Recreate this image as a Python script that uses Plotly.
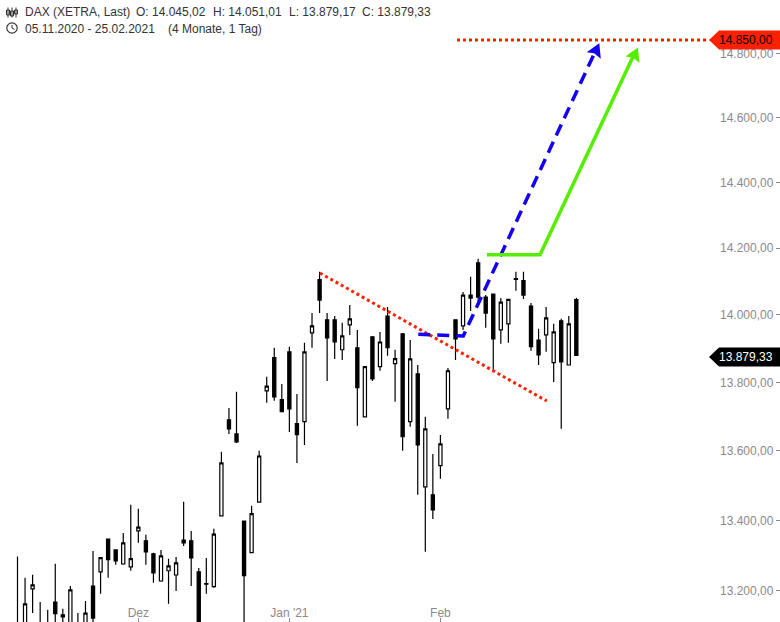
import math
import plotly.graph_objects as go

FONT = "Liberation Sans, Arial, sans-serif"

sessions = list(range(77))
opens = [12400,12550,12800,13050,13206,13100,13060,13169,13133,13100,13100,13090,13214,13254,13347,13316,13276,13268,13370,13342,
         13305,13228,13257,13245,13344,13342,13254,13221,13212,13413,13690,13649,13398,13308,13452,13775,13873,13749,13890,13679,
         13685,13946,14105,13985,13985,13896,13970,13902,13699,13934,13846,13996,13855,13943,13685,13825,13496,13473,13557,13722,
         13985,13967,14059,14156,14053,14062,13955,13973,14108,14102,14026,13925,13940,13858,13982,13851,14045.02]
highs = [12600,12600,13297,13237,13246,13169,13147,13277,13150,13214,13138,13172,13313,13296,13347,13316,13364,13445,13433,13359,
         13308,13316,13291,13296,13453,13370,13265,13293,13376,13597,13725,13772,13398,13442,13600,13816,13902,13795,13905,13766,
         13917,14005,14129,14005,13996,13976,14029,13955,13848,13937,13949,14023,13896,13946,13925,13851,13699,13591,13646,13842,
         13985,14068,14114,14168,14059,14062,14050,14047,14129,14129,14035,13958,14023,13973,13988,13996,14051.01]
lows = [12350,12430,12750,13020,13138,13030,13000,13080,13060,13080,13030,13060,13090,13192,13237,13274,13274,13257,13336,13274,
        13223,13226,13164,13200,13327,13214,13050,13192,13209,13412,13649,13623,13100,13307,13451,13740,13746,13713,13655,13565,
        13617,13902,14005,13804,13869,13866,13940,13673,13698,13804,13834,13878,13743,13600,13670,13473,13311,13404,13519,13693,
        13866,13955,14011,14035,13961,13831,13914,13917,14072,14047,13893,13851,13890,13801,13664,13850,13879.17]
closes = [12568,12480,13095,13164,13217,13052,13076,13136,13127,13203,13070,13138,13124,13294,13288,13285,13336,13291,13381,13310,
          13251,13299,13271,13279,13336,13293,13110,13219,13361,13565,13664,13626,13243,13419,13585,13789,13757,13714,13722,13647,
          13890,13967,14044,13931,13919,13937,13988,13784,13846,13810,13919,13902,13870,13641,13869,13617,13664,13430,13620,13834,
          13928,14059,14050,14053,14005,13928,14038,14046,14106,14059,13905,13881,13991,13949,13860,13973,13879.33]

price_ticks = [13200,13400,13600,13800,14000,14200,14400,14600,14800]
price_labels = ["13.200,00","13.400,00","13.600,00","13.800,00","14.000,00","14.200,00","14.400,00","14.600,00","14.800,00"]
month_ticks = [18,38,58]
month_labels = ["Dez","Jan '21","Feb"]

target_x = [60.2,93.6]
target_y = [14844,14844]
trend_x = [42.05,72.1]
trend_y = [14125,13745]
blue_x = [55.07,61.03,78.47]
blue_y = [13942,13937,14806]
green_x = [64.16,71.19,83.5]
green_y = [14180,14180,14791]

RED = "#ff2000"
BLUE = "#1400f0"
GREEN = "#55ee00"

fig = go.Figure()
fig.add_trace(go.Candlestick(
    x=sessions, open=opens, high=highs, low=lows, close=closes,
    increasing=dict(line=dict(color="#000000", width=1.2), fillcolor="#ffffff"),
    decreasing=dict(line=dict(color="#000000", width=1.2), fillcolor="#000000"),
    whiskerwidth=0, hoverinfo="skip", showlegend=False))

fig.add_trace(go.Scatter(x=trend_x, y=trend_y, mode="lines", showlegend=False, hoverinfo="skip",
                         line=dict(color=RED, width=3, dash="dot")))
fig.add_trace(go.Scatter(x=target_x, y=target_y, mode="lines", showlegend=False, hoverinfo="skip",
                         line=dict(color=RED, width=3, dash="dot")))
fig.add_trace(go.Scatter(x=blue_x, y=blue_y, mode="lines", showlegend=False, hoverinfo="skip",
                         line=dict(color=BLUE, width=3.5, dash="12px,7px")))
fig.add_trace(go.Scatter(x=green_x, y=green_y, mode="lines", showlegend=False, hoverinfo="skip",
                         line=dict(color=GREEN, width=3.5)))

ARROW = "M 0 0 L 1.5 -15.5 L -5.2 -10 L -12.6 -9 Z"
TAG = "M -71 {0} L -61 {1} L 0 {1} L 0 {2} L -61 {2} Z"
shapes = [
    dict(type="path", xref="x", yref="y", xsizemode="pixel", ysizemode="pixel",
         xanchor=79.04, yanchor=14834, path=ARROW, fillcolor=BLUE, line=dict(width=0), layer="above"),
    dict(type="path", xref="x", yref="y", xsizemode="pixel", ysizemode="pixel",
         xanchor=84.16, yanchor=14820, path=ARROW, fillcolor=GREEN, line=dict(width=0), layer="above"),
    dict(type="path", xref="paper", yref="y", xsizemode="pixel", ysizemode="pixel",
         xanchor=1, yanchor=14844, path=TAG.format(0, 9.5, -9.5),
         fillcolor=RED, line=dict(width=0), layer="above"),
    dict(type="path", xref="paper", yref="y", xsizemode="pixel", ysizemode="pixel",
         xanchor=1, yanchor=13879.33, path=TAG.format(-1.5, 8, -11),
         fillcolor="#000000", line=dict(width=0), layer="above"),
    # header icons
    dict(type="path", xref="paper", yref="paper", xsizemode="pixel", ysizemode="pixel",
         xanchor=0, yanchor=1, layer="above", line=dict(color="#333333", width=1),
         path="M 8 -7.5 L 8 -17.5 M 12 -7.5 L 12 -17.5 M 16 -7.5 L 16 -17.5 M 6.5 -10 H 9.5 V -15 H 6.5 Z M 10.5 -11 H 13.5 V -16 H 10.5 Z M 14.5 -10 H 17.5 V -14 H 14.5 Z"),
    dict(type="circle", xref="paper", yref="paper", xsizemode="pixel", ysizemode="pixel",
         xanchor=0, yanchor=1, x0=6.8, x1=17.2, y0=-33.2, y1=-22.8, layer="above",
         line=dict(color="#333333", width=1.2)),
    dict(type="path", xref="paper", yref="paper", xsizemode="pixel", ysizemode="pixel",
         xanchor=0, yanchor=1, layer="above", line=dict(color="#333333", width=1),
         path="M 12 -25 L 12 -28 L 14.5 -29.5"),
]

def header(text, px, py):
    return dict(text=text, xref="paper", yref="paper", x=px/780, y=1-py/622, xanchor="left", yanchor="middle",
                showarrow=False, font=dict(family=FONT, size=12, color="#333333"), xshift=0)

annotations = [
    header("DAX (XETRA, Last)", 23, 12.5),
    header("O: 14.045,02", 134, 12.5),
    header("H: 14.051,01", 211, 12.5),
    header("L: 13.879,17", 287, 12.5),
    header("C: 13.879,33", 360, 12.5),
    header("05.11.2020 - 25.02.2021", 23, 28.5),
    header("(4 Monate, 1 Tag)", 166, 28.5),
    dict(text="14.850,00", xref="paper", yref="y", x=1, y=math.log10(14844), xanchor="right", yanchor="middle",
         xshift=-5, showarrow=False, font=dict(family=FONT, size=12, color="#000000")),
    dict(text="13.879,33", xref="paper", yref="y", x=1, y=math.log10(13879.33), xanchor="right", yanchor="middle",
         xshift=-5, yshift=-1.5, showarrow=False, font=dict(family=FONT, size=12, color="#ffffff")),
]

fig.update_layout(
    width=780, height=622, margin=dict(l=0, r=0, t=0, b=0),
    paper_bgcolor="#ffffff", plot_bgcolor="#ffffff", showlegend=False,
    boxgap=0.4,
    shapes=shapes, annotations=annotations,
    font=dict(family=FONT, size=12, color="#8a8a8a"),
    xaxis=dict(type="linear", range=[-0.318, 102.97], tickmode="array", tickvals=month_ticks, ticktext=month_labels,
               ticks="inside", ticklen=4, tickcolor="#8a8a8a", tickwidth=1, ticklabelposition="inside",
               ticklabelstandoff=-2,
               showgrid=False, zeroline=False, showline=False, rangeslider=dict(visible=False),
               tickfont=dict(family=FONT, size=12, color="#8a8a8a")),
    yaxis=dict(type="log", side="right", range=[math.log10(13113), math.log10(14971)], tickmode="array",
               tickvals=price_ticks, ticktext=price_labels, ticks="inside", ticklen=4, tickcolor="#8a8a8a", tickwidth=1,
               ticklabelposition="inside", ticklabelstandoff=2, showgrid=False, zeroline=False, showline=False,
               tickfont=dict(family=FONT, size=12, color="#8a8a8a")),
)

fig.write_html("out.html", config={"displayModeBar": False},
               post_script="document.body.style.margin='0';document.body.style.overflow='hidden';")
